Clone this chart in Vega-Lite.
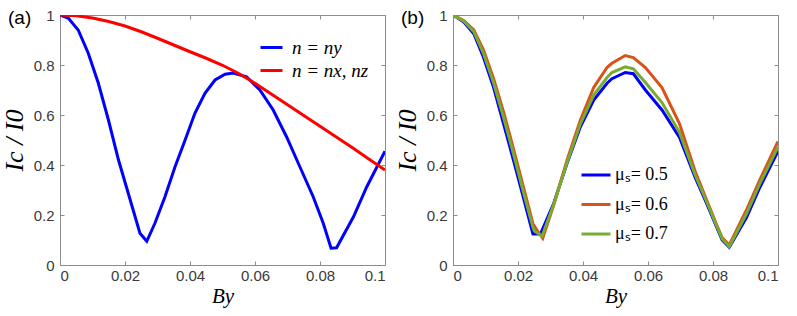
{
  "$schema": "https://vega.github.io/schema/vega-lite/v6.json",
  "padding": {"left": 0, "top": 7, "right": 5, "bottom": 5},
  "spacing": 7,
  "background": "white",
  "config": {
    "view": {"stroke": "#8c8c8c", "strokeWidth": 1},
    "axis": {
      "domain": false, "grid": false, "tickColor": "#8c8c8c", "tickSize": -4,
      "labelFont": "Liberation Sans", "labelFontSize": 15, "labelColor": "#3a3a3a",
      "titleFont": "Liberation Serif", "titleFontStyle": "italic", "titleFontWeight": "normal", "titleColor": "#000000"
    },
    "axisX": {"labelPadding": 7, "titleFontSize": 21, "titlePadding": 2},
    "axisY": {"labelPadding": 10, "titleFontSize": 26, "minExtent": 30, "maxExtent": 30, "titlePadding": 3},
    "legend": {
      "labelFont": "Liberation Serif", "labelColor": "#000000", "symbolType": "stroke", "symbolStrokeWidth": 3
    },
    "title": {"font": "Liberation Sans", "fontSize": 19, "fontWeight": "normal", "color": "#000000"}
  },
  "datasets": {
    "a": [
      {"n": "n = ny", "B": 0, "I": 1.0},
      {"n": "n = ny", "B": 0.0026, "I": 0.987},
      {"n": "n = ny", "B": 0.0056, "I": 0.94},
      {"n": "n = ny", "B": 0.0087, "I": 0.847},
      {"n": "n = ny", "B": 0.0118, "I": 0.727},
      {"n": "n = ny", "B": 0.0149, "I": 0.58},
      {"n": "n = ny", "B": 0.018, "I": 0.42},
      {"n": "n = ny", "B": 0.021, "I": 0.287},
      {"n": "n = ny", "B": 0.0246, "I": 0.127},
      {"n": "n = ny", "B": 0.0267, "I": 0.095},
      {"n": "n = ny", "B": 0.0292, "I": 0.167},
      {"n": "n = ny", "B": 0.0323, "I": 0.273},
      {"n": "n = ny", "B": 0.0354, "I": 0.393},
      {"n": "n = ny", "B": 0.0385, "I": 0.5},
      {"n": "n = ny", "B": 0.0415, "I": 0.607},
      {"n": "n = ny", "B": 0.0446, "I": 0.687},
      {"n": "n = ny", "B": 0.0477, "I": 0.74},
      {"n": "n = ny", "B": 0.0508, "I": 0.763},
      {"n": "n = ny", "B": 0.0533, "I": 0.768},
      {"n": "n = ny", "B": 0.0574, "I": 0.753},
      {"n": "n = ny", "B": 0.0615, "I": 0.7},
      {"n": "n = ny", "B": 0.0656, "I": 0.62},
      {"n": "n = ny", "B": 0.0697, "I": 0.513},
      {"n": "n = ny", "B": 0.0738, "I": 0.393},
      {"n": "n = ny", "B": 0.0779, "I": 0.273},
      {"n": "n = ny", "B": 0.081, "I": 0.167},
      {"n": "n = ny", "B": 0.0834, "I": 0.067},
      {"n": "n = ny", "B": 0.0851, "I": 0.069},
      {"n": "n = ny", "B": 0.0903, "I": 0.193},
      {"n": "n = ny", "B": 0.0944, "I": 0.313},
      {"n": "n = ny", "B": 0.1, "I": 0.455},
      {"n": "n = nx, nz", "B": 0, "I": 1.0},
      {"n": "n = nx, nz", "B": 0.005, "I": 0.997},
      {"n": "n = nx, nz", "B": 0.01, "I": 0.988},
      {"n": "n = nx, nz", "B": 0.015, "I": 0.974},
      {"n": "n = nx, nz", "B": 0.02, "I": 0.956},
      {"n": "n = nx, nz", "B": 0.025, "I": 0.933},
      {"n": "n = nx, nz", "B": 0.03, "I": 0.907},
      {"n": "n = nx, nz", "B": 0.035, "I": 0.88},
      {"n": "n = nx, nz", "B": 0.04, "I": 0.853},
      {"n": "n = nx, nz", "B": 0.045, "I": 0.827},
      {"n": "n = nx, nz", "B": 0.05, "I": 0.799},
      {"n": "n = nx, nz", "B": 0.055, "I": 0.766},
      {"n": "n = nx, nz", "B": 0.06, "I": 0.727},
      {"n": "n = nx, nz", "B": 0.065, "I": 0.684},
      {"n": "n = nx, nz", "B": 0.07, "I": 0.641},
      {"n": "n = nx, nz", "B": 0.075, "I": 0.598},
      {"n": "n = nx, nz", "B": 0.08, "I": 0.555},
      {"n": "n = nx, nz", "B": 0.085, "I": 0.512},
      {"n": "n = nx, nz", "B": 0.09, "I": 0.469},
      {"n": "n = nx, nz", "B": 0.095, "I": 0.424},
      {"n": "n = nx, nz", "B": 0.1, "I": 0.38}
    ],
    "b": [
      {"m": "μₛ= 0.5", "B": 0, "I": 1.0},
      {"m": "μₛ= 0.5", "B": 0.0033, "I": 0.972},
      {"m": "μₛ= 0.5", "B": 0.0064, "I": 0.925},
      {"m": "μₛ= 0.5", "B": 0.0094, "I": 0.83},
      {"m": "μₛ= 0.5", "B": 0.0125, "I": 0.71},
      {"m": "μₛ= 0.5", "B": 0.0156, "I": 0.563},
      {"m": "μₛ= 0.5", "B": 0.0187, "I": 0.415},
      {"m": "μₛ= 0.5", "B": 0.0217, "I": 0.268},
      {"m": "μₛ= 0.5", "B": 0.0246, "I": 0.124},
      {"m": "μₛ= 0.5", "B": 0.0269, "I": 0.124},
      {"m": "μₛ= 0.5", "B": 0.031, "I": 0.247},
      {"m": "μₛ= 0.5", "B": 0.0351, "I": 0.407},
      {"m": "μₛ= 0.5", "B": 0.0392, "I": 0.553},
      {"m": "μₛ= 0.5", "B": 0.0433, "I": 0.66},
      {"m": "μₛ= 0.5", "B": 0.0474, "I": 0.727},
      {"m": "μₛ= 0.5", "B": 0.0489, "I": 0.745},
      {"m": "μₛ= 0.5", "B": 0.053, "I": 0.77},
      {"m": "μₛ= 0.5", "B": 0.0555, "I": 0.765},
      {"m": "μₛ= 0.5", "B": 0.0592, "I": 0.7},
      {"m": "μₛ= 0.5", "B": 0.0643, "I": 0.62},
      {"m": "μₛ= 0.5", "B": 0.0697, "I": 0.51},
      {"m": "μₛ= 0.5", "B": 0.0745, "I": 0.35},
      {"m": "μₛ= 0.5", "B": 0.0779, "I": 0.25},
      {"m": "μₛ= 0.5", "B": 0.081, "I": 0.155},
      {"m": "μₛ= 0.5", "B": 0.0828, "I": 0.1},
      {"m": "μₛ= 0.5", "B": 0.085, "I": 0.071},
      {"m": "μₛ= 0.5", "B": 0.0903, "I": 0.19},
      {"m": "μₛ= 0.5", "B": 0.0944, "I": 0.31},
      {"m": "μₛ= 0.5", "B": 0.1, "I": 0.455},
      {"m": "μₛ= 0.6", "B": 0, "I": 1.0},
      {"m": "μₛ= 0.6", "B": 0.0033, "I": 0.978},
      {"m": "μₛ= 0.6", "B": 0.0064, "I": 0.94},
      {"m": "μₛ= 0.6", "B": 0.0094, "I": 0.86},
      {"m": "μₛ= 0.6", "B": 0.0125, "I": 0.745},
      {"m": "μₛ= 0.6", "B": 0.0156, "I": 0.61},
      {"m": "μₛ= 0.6", "B": 0.0187, "I": 0.46},
      {"m": "μₛ= 0.6", "B": 0.0217, "I": 0.31},
      {"m": "μₛ= 0.6", "B": 0.0246, "I": 0.165},
      {"m": "μₛ= 0.6", "B": 0.0258, "I": 0.14},
      {"m": "μₛ= 0.6", "B": 0.0276, "I": 0.107},
      {"m": "μₛ= 0.6", "B": 0.031, "I": 0.24},
      {"m": "μₛ= 0.6", "B": 0.0351, "I": 0.42},
      {"m": "μₛ= 0.6", "B": 0.0392, "I": 0.58},
      {"m": "μₛ= 0.6", "B": 0.0433, "I": 0.71},
      {"m": "μₛ= 0.6", "B": 0.0474, "I": 0.79},
      {"m": "μₛ= 0.6", "B": 0.0489, "I": 0.807},
      {"m": "μₛ= 0.6", "B": 0.053, "I": 0.838},
      {"m": "μₛ= 0.6", "B": 0.0555, "I": 0.83},
      {"m": "μₛ= 0.6", "B": 0.0592, "I": 0.79},
      {"m": "μₛ= 0.6", "B": 0.0643, "I": 0.71},
      {"m": "μₛ= 0.6", "B": 0.0697, "I": 0.565},
      {"m": "μₛ= 0.6", "B": 0.0745, "I": 0.375},
      {"m": "μₛ= 0.6", "B": 0.0779, "I": 0.265},
      {"m": "μₛ= 0.6", "B": 0.081, "I": 0.165},
      {"m": "μₛ= 0.6", "B": 0.0828, "I": 0.11},
      {"m": "μₛ= 0.6", "B": 0.085, "I": 0.08},
      {"m": "μₛ= 0.6", "B": 0.0903, "I": 0.22},
      {"m": "μₛ= 0.6", "B": 0.0944, "I": 0.34},
      {"m": "μₛ= 0.6", "B": 0.1, "I": 0.494},
      {"m": "μₛ= 0.7", "B": 0, "I": 1.0},
      {"m": "μₛ= 0.7", "B": 0.0033, "I": 0.975},
      {"m": "μₛ= 0.7", "B": 0.0064, "I": 0.933},
      {"m": "μₛ= 0.7", "B": 0.0094, "I": 0.845},
      {"m": "μₛ= 0.7", "B": 0.0125, "I": 0.728},
      {"m": "μₛ= 0.7", "B": 0.0156, "I": 0.588},
      {"m": "μₛ= 0.7", "B": 0.0187, "I": 0.44},
      {"m": "μₛ= 0.7", "B": 0.0217, "I": 0.29},
      {"m": "μₛ= 0.7", "B": 0.0246, "I": 0.15},
      {"m": "μₛ= 0.7", "B": 0.025, "I": 0.137},
      {"m": "μₛ= 0.7", "B": 0.0274, "I": 0.115},
      {"m": "μₛ= 0.7", "B": 0.031, "I": 0.243},
      {"m": "μₛ= 0.7", "B": 0.0351, "I": 0.41},
      {"m": "μₛ= 0.7", "B": 0.0392, "I": 0.565},
      {"m": "μₛ= 0.7", "B": 0.0433, "I": 0.68},
      {"m": "μₛ= 0.7", "B": 0.0474, "I": 0.75},
      {"m": "μₛ= 0.7", "B": 0.0489, "I": 0.77},
      {"m": "μₛ= 0.7", "B": 0.053, "I": 0.793},
      {"m": "μₛ= 0.7", "B": 0.0555, "I": 0.785},
      {"m": "μₛ= 0.7", "B": 0.0592, "I": 0.73},
      {"m": "μₛ= 0.7", "B": 0.0643, "I": 0.65},
      {"m": "μₛ= 0.7", "B": 0.0697, "I": 0.53},
      {"m": "μₛ= 0.7", "B": 0.0745, "I": 0.36},
      {"m": "μₛ= 0.7", "B": 0.0779, "I": 0.258},
      {"m": "μₛ= 0.7", "B": 0.081, "I": 0.16},
      {"m": "μₛ= 0.7", "B": 0.0828, "I": 0.105},
      {"m": "μₛ= 0.7", "B": 0.085, "I": 0.073},
      {"m": "μₛ= 0.7", "B": 0.0903, "I": 0.205},
      {"m": "μₛ= 0.7", "B": 0.0944, "I": 0.325},
      {"m": "μₛ= 0.7", "B": 0.1, "I": 0.473}
    ]
  },
  "hconcat": [
    {
      "width": 325, "height": 250,
      "title": {"text": "(a)", "anchor": "start", "frame": "bounds", "dx": 7, "dy": 20, "offset": 0},
      "data": {"name": "a"},
      "layer": [
        {
          "mark": {"type": "line", "strokeWidth": 3, "clip": true},
          "encoding": {
            "x": {"field": "B", "type": "quantitative", "scale": {"domain": [0, 0.1], "nice": false},
                  "axis": {"values": [0, 0.02, 0.04, 0.06, 0.08, 0.1], "format": "~g", "title": "By"}},
            "y": {"field": "I", "type": "quantitative", "scale": {"domain": [0, 1], "nice": false},
                  "axis": {"values": [0, 0.2, 0.4, 0.6, 0.8, 1], "format": "~g", "title": "Ic / I0"}},
            "color": {"field": "n", "type": "nominal", "sort": null,
                      "scale": {"domain": ["n = ny", "n = nx, nz"], "range": ["#0000ff", "#ff0000"]},
                      "legend": {"title": null, "orient": "none", "legendX": 199, "legendY": 20,
                                 "labelFontSize": 19, "labelFontStyle": "italic", "symbolSize": 484, "rowPadding": -2, "labelOffset": 8}}
          }
        },
        {
          "mark": {"type": "line", "opacity": 0},
          "encoding": {
            "x": {"field": "B", "type": "quantitative",
                  "axis": {"orient": "top", "values": [0, 0.02, 0.04, 0.06, 0.08, 0.1], "labels": false, "title": null}},
            "y": {"field": "I", "type": "quantitative",
                  "axis": {"orient": "right", "values": [0, 0.2, 0.4, 0.6, 0.8, 1], "labels": false, "title": null, "minExtent": 0, "maxExtent": 0}}
          }
        }
      ],
      "resolve": {"axis": {"x": "independent", "y": "independent"}}
    },
    {
      "width": 325, "height": 250,
      "title": {"text": "(b)", "anchor": "start", "frame": "bounds", "dx": 7, "dy": 20, "offset": 0},
      "data": {"name": "b"},
      "layer": [
        {
          "mark": {"type": "line", "strokeWidth": 3, "clip": true},
          "encoding": {
            "x": {"field": "B", "type": "quantitative", "scale": {"domain": [0, 0.1], "nice": false},
                  "axis": {"values": [0, 0.02, 0.04, 0.06, 0.08, 0.1], "format": "~g", "title": "By"}},
            "y": {"field": "I", "type": "quantitative", "scale": {"domain": [0, 1], "nice": false},
                  "axis": {"values": [0, 0.2, 0.4, 0.6, 0.8, 1], "format": "~g", "title": "Ic / I0"}},
            "color": {"field": "m", "type": "nominal", "sort": null,
                      "scale": {"domain": ["μₛ= 0.5", "μₛ= 0.6", "μₛ= 0.7"], "range": ["#0000ff", "#d95319", "#77ac30"]},
                      "legend": {"title": null, "orient": "none", "legendX": 127, "legendY": 144,
                                 "labelFontSize": 18, "symbolSize": 841, "rowPadding": 4.5, "labelOffset": 3}}
          }
        },
        {
          "mark": {"type": "line", "opacity": 0},
          "encoding": {
            "x": {"field": "B", "type": "quantitative",
                  "axis": {"orient": "top", "values": [0, 0.02, 0.04, 0.06, 0.08, 0.1], "labels": false, "title": null}},
            "y": {"field": "I", "type": "quantitative",
                  "axis": {"orient": "right", "values": [0, 0.2, 0.4, 0.6, 0.8, 1], "labels": false, "title": null, "minExtent": 0, "maxExtent": 0}}
          }
        }
      ],
      "resolve": {"axis": {"x": "independent", "y": "independent"}}
    }
  ],
  "resolve": {"scale": {"color": "independent"}}
}
